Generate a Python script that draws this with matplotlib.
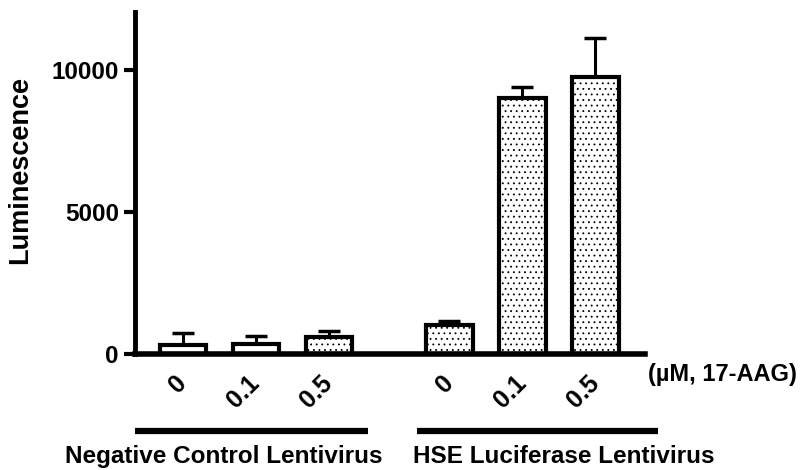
import matplotlib.pyplot as plt

plt.rcParams['font.family'] = ['Liberation Sans', 'DejaVu Sans']
plt.rcParams['font.weight'] = 'bold'
plt.rcParams['hatch.linewidth'] = 0.6

doses = ["0", "0.1", "0.5", "0", "0.1", "0.5"]
means = [300, 350, 600, 1020, 9010, 9750]
sem = [440, 280, 200, 140, 390, 1370]
hatches = ["", "", "...", "...", "...", "..."]
positions = [0, 1, 2, 3.65, 4.65, 5.65]
groups = ["Negative Control Lentivirus", "HSE Luciferase Lentivirus"]

fig = plt.figure(figsize=(8.01, 4.70), dpi=100)
ax = fig.add_axes([0.1685, 0.2468, 0.6367, 0.7277])

for x, m, e, h in zip(positions, means, sem, hatches):
    ax.bar(x, m, width=0.64, color="white", edgecolor="black",
           linewidth=3, hatch=h, zorder=2)
    ax.errorbar(x, m, yerr=[[0], [e]], fmt="none", ecolor="black",
                elinewidth=2.2, capsize=8, capthick=2.5, zorder=1)

ax.set_xlim(-0.66, 6.33)
ax.set_ylim(0, 12050)
ax.set_yticks([0, 5000, 10000])
ax.set_xticks(positions)
ax.set_xticklabels(doses, rotation=45, ha="right", va="center",
                   rotation_mode="anchor", fontsize=18, fontweight="bold")
ax.tick_params(axis="x", length=0, pad=18)
ax.tick_params(axis="y", length=8, width=3, labelsize=17.5)
for lab in ax.get_yticklabels():
    lab.set_fontweight("bold")

for s in ["top", "right"]:
    ax.spines[s].set_visible(False)
ax.spines["left"].set_linewidth(3.5)
ax.spines["bottom"].set_linewidth(4)

ax.set_ylabel("Luminescence", fontsize=19.5, fontweight="bold")
ax.yaxis.set_label_coords(-0.20, 0.538)

ax.text(1.006, -0.061, "(µM, 17-AAG)", transform=ax.transAxes,
        ha="left", va="center", fontsize=17, fontweight="bold")

ax.plot([0.0, 0.457], [-0.225, -0.225], transform=ax.transAxes,
        color="black", linewidth=4.5, clip_on=False, solid_capstyle="butt")
ax.plot([0.553, 1.025], [-0.225, -0.225], transform=ax.transAxes,
        color="black", linewidth=4.5, clip_on=False, solid_capstyle="butt")
ax.text(0.175, -0.30, groups[0], transform=ax.transAxes,
        ha="center", va="center", fontsize=17.5, fontweight="bold")
ax.text(0.841, -0.30, groups[1], transform=ax.transAxes,
        ha="center", va="center", fontsize=17.5, fontweight="bold")

fig.savefig("out.png", dpi=100)
